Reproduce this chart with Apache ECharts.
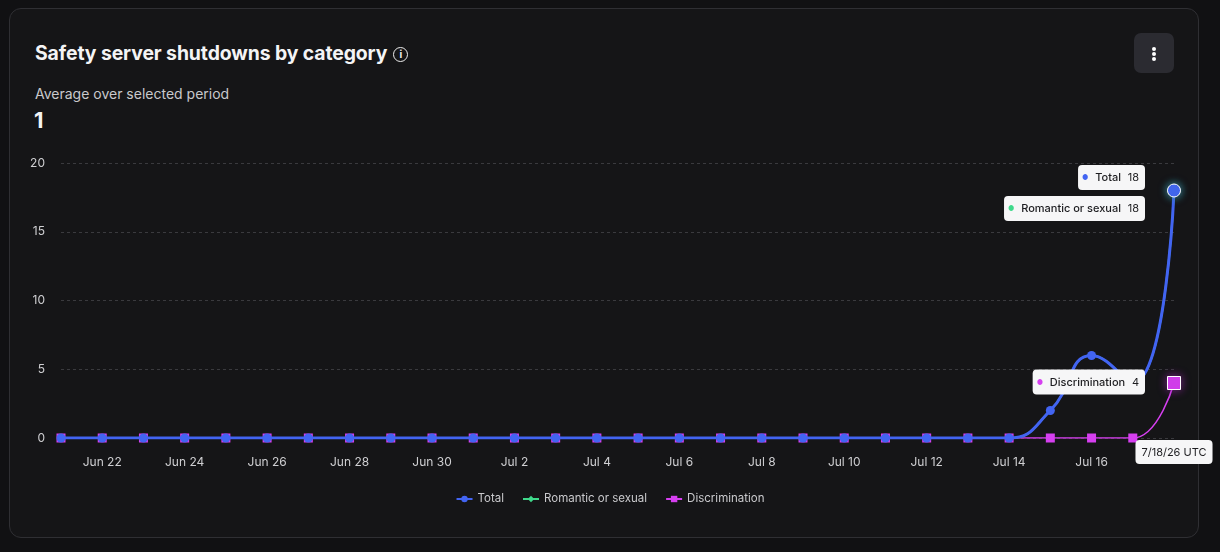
<!DOCTYPE html>
<html>
<head>
<meta charset="utf-8">
<script src="https://cdn.jsdelivr.net/npm/echarts@6/dist/echarts.min.js"></script>
<style>
  html, body { margin: 0; padding: 0; background: #111113; width: 1220px; height: 552px; overflow: hidden; }
  body { font-family: Inter, "Noto Sans", sans-serif; }
  .card {
    position: absolute; left: 9px; top: 8px; width: 1188px; height: 528px;
    background: #151517; border: 1px solid #2f2f33; border-radius: 12px;
  }
  .title { position: absolute; left: 25px; top: 32px; color: #f4f4f5; font-size: 19.4px; font-weight: 700; letter-spacing: -0.1px; }
  .info {
    display: inline-block; width: 13px; height: 13px; border: 1.6px solid #eee; border-radius: 50%;
    font-size: 10px; line-height: 13px; text-align: center; font-weight: 700; vertical-align: 2px; margin-left: 6px;
  }
  .sub { position: absolute; left: 25px; top: 76px; color: #c9c9cc; font-size: 14px; }
  .big { position: absolute; left: 24px; top: 98px; color: #f4f4f5; font-size: 22px; font-weight: 700; }
  .menu {
    position: absolute; left: 1124px; top: 24px; width: 40px; height: 40px;
    background: #2b2b31; border-radius: 7px;
  }
  .menu i { position: absolute; left: 18px; width: 4px; height: 4px; background: #fff; border-radius: 50%; }
  #chart { position: absolute; left: 0; top: 0; width: 1220px; height: 552px; }
</style>
</head>
<body>
<div class="card">
  <div class="title">Safety server shutdowns by category<span class="info">i</span></div>
  <div class="sub">Average over selected period</div>
  <div class="big">1</div>
  <div class="menu"><i style="top:14px"></i><i style="top:19px"></i><i style="top:24px"></i></div>
</div>
<div id="chart"></div>
<script>
"use strict";

// 日期分类（Jun 21 - Jul 18）
var dates = [];
for (var d = 21; d <= 30; d++) dates.push('Jun ' + d);
for (var d2 = 1; d2 <= 18; d2++) dates.push('Jul ' + d2);

var seriesNames = ['Total', 'Romantic or sexual', 'Discrimination'];
var colors = ['#4264f2', '#3fd98b', '#d63ff0'];

var totalValues = [0,0,0,0,0,0,0,0,0,0,0,0,0,0,0,0,0,0,0,0,0,0,0,0,2,6,4,18];
var romanticValues = [0,0,0,0,0,0,0,0,0,0,0,0,0,0,0,0,0,0,0,0,0,0,0,0,2,6,4,18];
var discriminationValues = [0,0,0,0,0,0,0,0,0,0,0,0,0,0,0,0,0,0,0,0,0,0,0,0,0,0,0,4];

var yTicks = [0, 5, 10, 15, 20];
var pointerLabel = '7/18/26 UTC';

var labelOffsets = [[0, -13], [0, 18], [0, -1]];
var halos = ['rgba(60,120,170,0.9)', 'rgba(60,200,130,0.6)', 'rgba(150,40,170,0.8)'];

var symbols = ['circle', 'diamond', 'rect'];
var widths = [3, 2, 1.6];
var zs = [4, 3, 2];
var allValues = [totalValues, romanticValues, discriminationValues];
var last = dates.length - 1;

// 主折线
var series = seriesNames.map(function (name, i) {
    return {
        name: name,
        type: 'line',
        smooth: true,
        symbol: symbols[i],
        symbolSize: i === 1 ? 8 : 9,
        showSymbol: true,
        z: zs[i],
        color: colors[i],
        lineStyle: { width: widths[i], color: colors[i] },
        itemStyle: { color: colors[i] },
        emphasis: { disabled: true },
        data: allValues[i]
    };
});

// 最后一个点的提示框（放在最上层）
seriesNames.forEach(function (name, i) {
    series.push({
        name: name + ' tip',
        type: 'scatter',
        z: 10 - i,
        silent: true,
        symbol: symbols[i],
        symbolSize: 13,
        itemStyle: { color: colors[i], opacity: 1, borderColor: '#ffffff', borderWidth: 1, shadowColor: halos[i], shadowBlur: 10 },
        label: {
            show: true,
            opacity: 1,
            position: 'left',
            distance: 22,
            offset: labelOffsets[i],
            backgroundColor: '#f6f6f7',
            borderRadius: 4,
            padding: [7, 6, 6, 4],
            formatter: function (p) {
                return '{dot|●}  {n|' + name + '}  {v|' + p.value[1] + '}';
            },
            rich: {
                dot: { color: colors[i], fontSize: 7 },
                n: { color: '#1d1d20', fontSize: 11, fontWeight: 500, fontFamily: 'Inter' },
                v: { color: '#1d1d20', fontSize: 11, fontWeight: 400, fontFamily: 'Inter' }
            }
        },
        data: [[dates[last], allValues[i][last]]]
    });
});

var chart = echarts.init(document.getElementById('chart'), null, { renderer: 'canvas' });
chart.setOption({
    backgroundColor: 'transparent',
    animation: false,
    textStyle: { fontFamily: 'Inter' },
    grid: { left: 61, right: 46, top: 163, bottom: 114 },
    legend: {
        bottom: 42,
        left: 'center',
        itemGap: 18,
        itemWidth: 16,
        itemHeight: 8,
        textStyle: { color: '#c9c9cc', fontSize: 11.5 },
        data: seriesNames
    },
    xAxis: {
        type: 'category',
        boundaryGap: false,
        data: dates,
        axisLine: { show: false },
        axisTick: { show: false },
        axisLabel: {
            color: '#cfcfd2',
            fontSize: 12,
            margin: 18,
            interval: function (i) { return i % 2 === 1 && i < last; }
        },
        axisPointer: {
            show: true,
            value: last,
            status: 'show',
            triggerTooltip: false,
            type: 'line',
            lineStyle: { color: 'rgba(0,0,0,0)' },
            label: {
                show: true,
                formatter: pointerLabel,
                backgroundColor: '#f6f6f7',
                color: '#1d1d20',
                fontSize: 11,
                padding: [7, 6, 6, 6],
                borderRadius: 4,
                margin: 2,
                shadowBlur: 0
            }
        }
    },
    yAxis: {
        type: 'value',
        min: yTicks[0],
        max: yTicks[yTicks.length - 1],
        interval: 5,
        axisLabel: { color: '#cfcfd2', fontSize: 12, margin: 16 },
        splitLine: { lineStyle: { color: '#3a3a3e', type: [3, 3], width: 1 } }
    },
    series: series
});
</script>
</body>
</html>
